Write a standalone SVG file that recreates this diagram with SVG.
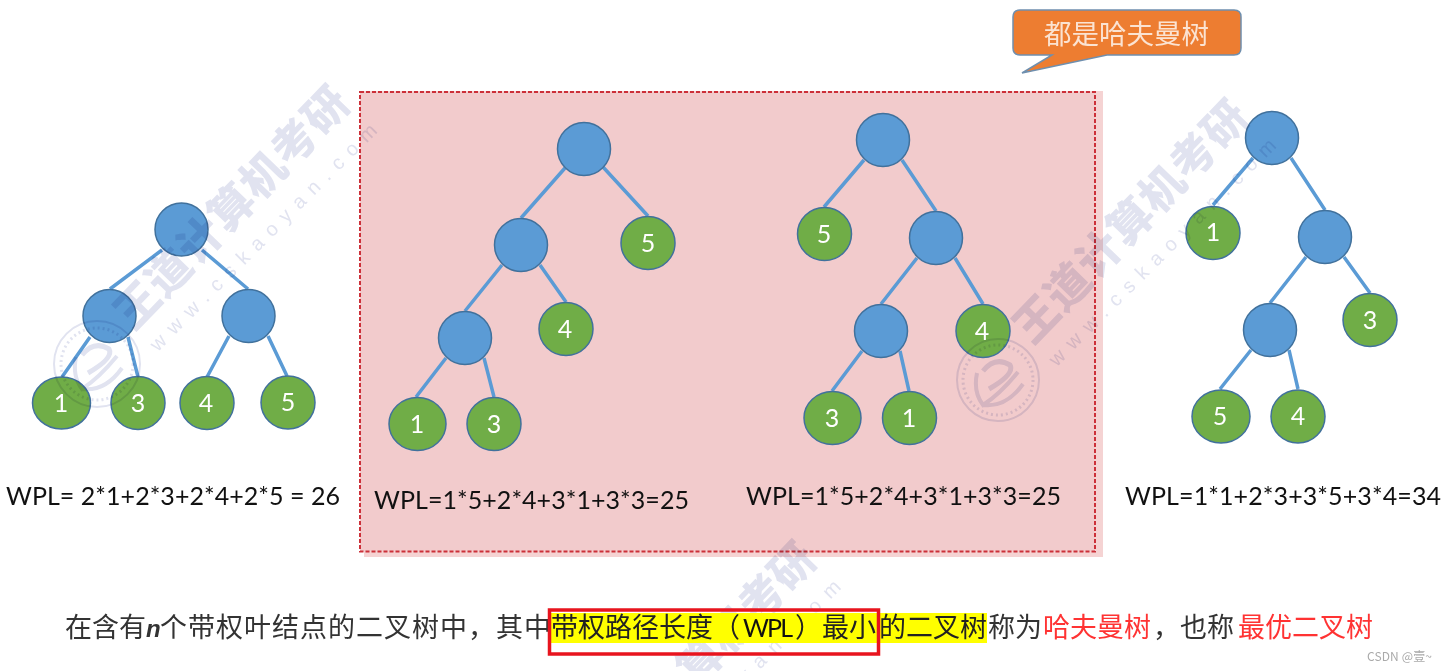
<svg xmlns="http://www.w3.org/2000/svg" width="1448" height="671" viewBox="0 0 1448 671">
<style>
.in{fill:#5b9bd5;stroke:#41719c;stroke-width:1.5}
.lf{fill:#70ad47;stroke:#41719c;stroke-width:1.5}
.n{font-family:"Lato","Liberation Sans",sans-serif;font-size:25px;fill:#fff;text-anchor:middle}
.w{font-family:"Lato","Liberation Sans",sans-serif;font-size:25px;fill:#111}
.c{stroke:#5b9bd5;stroke-width:3.5;fill:none}
.t{font-family:"Noto Sans CJK SC",sans-serif;font-size:27px;fill:#333}
.y{fill:#222}
.r{fill:#f33}
.bl{mix-blend-mode:multiply}
.wm{font-family:"Noto Sans CJK SC",sans-serif;font-size:44px;font-weight:900;fill:#e1e3f0;text-anchor:middle}
.wu{font-family:"Liberation Sans",sans-serif;font-size:20px;fill:#e1e3f0;text-anchor:middle}
.lg{fill:none;stroke:#e1e3f0}
</style>
<rect width="1448" height="671" fill="#fff"/>
<g id="panel"><rect x="364" y="91" width="739" height="466" fill="#f5d3d3"/><rect x="360" y="92" width="735" height="459.500" fill="#f2cbcc" stroke="#cc3039" stroke-width="2" stroke-dasharray="4 2"/></g>
<g id="connectors" class="c">
<path d="M162 250L110 289M202 250L248 289M90 337L62 377M128 337L138 377M229 336L207 377M268 336L287 376"/>
<path d="M565 168L521 218M603 167L648 216M502 265L465 311M540 265L566 302M446 358L416 397M484 358L494 397"/>
<path d="M864 160L824 207M902 160L936 211M917 258L881 304M955 258L983 304M862 351L832 391M900 351L909 391"/>
<path d="M1253 158L1213 205M1291 158L1325 210M1306 257L1270 303M1344 257L1370 293M1251 350L1220 389M1289 350L1298 389"/>
</g>
<g id="tree1">
<circle class="in" cx="181.500" cy="229.500" r="26.500"/><circle class="in" cx="109.500" cy="316" r="26.500"/><circle class="in" cx="248.500" cy="316" r="26.500"/>
<g><ellipse class="lf" cx="61.500" cy="403" rx="29" ry="26"/><text class="n" x="61" y="412">1</text></g>
<g><ellipse class="lf" cx="138" cy="403" rx="27" ry="26.500"/><text class="n" x="138" y="412">3</text></g>
<g><ellipse class="lf" cx="207" cy="403" rx="27" ry="26.500"/><text class="n" x="206" y="412">4</text></g>
<g><ellipse class="lf" cx="288" cy="402.500" rx="27" ry="26.500"/><text class="n" x="288" y="411">5</text></g>
</g>
<g id="tree2">
<circle class="in" cx="584" cy="149" r="26.500"/><circle class="in" cx="521" cy="245" r="26.500"/><circle class="in" cx="465" cy="338" r="26.500"/>
<g><ellipse class="lf" cx="648" cy="243" rx="27" ry="26.500"/><text class="n" x="648" y="252">5</text></g>
<g><ellipse class="lf" cx="566" cy="329" rx="27" ry="26.500"/><text class="n" x="565" y="338">4</text></g>
<g><ellipse class="lf" cx="417.500" cy="424" rx="28.500" ry="26.500"/><text class="n" x="417" y="433">1</text></g>
<g><ellipse class="lf" cx="494" cy="424" rx="27" ry="26.500"/><text class="n" x="494" y="433">3</text></g>
</g>
<g id="tree3">
<circle class="in" cx="883" cy="140" r="26.500"/><circle class="in" cx="936" cy="238" r="26.500"/><circle class="in" cx="881" cy="331" r="26.500"/>
<g><ellipse class="lf" cx="824.500" cy="234" rx="27" ry="26.500"/><text class="n" x="824" y="243">5</text></g>
<g><ellipse class="lf" cx="983" cy="331" rx="27" ry="26.500"/><text class="n" x="982" y="340">4</text></g>
<g><ellipse class="lf" cx="832.500" cy="418" rx="28.500" ry="26.500"/><text class="n" x="832" y="427">3</text></g>
<g><ellipse class="lf" cx="909.500" cy="418" rx="27" ry="26.500"/><text class="n" x="909" y="427">1</text></g>
</g>
<g id="tree4">
<circle class="in" cx="1272" cy="138" r="26.500"/><circle class="in" cx="1325" cy="237" r="26.500"/><circle class="in" cx="1270" cy="330" r="26.500"/>
<g><ellipse class="lf" cx="1213" cy="233" rx="27" ry="26.500"/><text class="n" x="1213" y="241">1</text></g>
<g><ellipse class="lf" cx="1370" cy="320" rx="27" ry="26.500"/><text class="n" x="1370" y="329">3</text></g>
<g><ellipse class="lf" cx="1221" cy="416.500" rx="29" ry="26.500"/><text class="n" x="1220" y="425">5</text></g>
<g><ellipse class="lf" cx="1298" cy="416.500" rx="27" ry="26.500"/><text class="n" x="1298" y="425">4</text></g>
</g>
<g id="watermarks" class="bl">
<g class="bl"><text class="wm" transform="translate(232 208) rotate(-46)" y="15" textLength="315">王道计算机考研</text></g>
<g class="bl"><text class="wu" transform="translate(263 237) rotate(-45)" y="7" textLength="312">www.cskaoyan.com</text></g>
<g class="lg bl" transform="translate(97 364)"><circle r="43" stroke-width="2"/><circle r="36" stroke-width="3" stroke-dasharray="2 3"/><path stroke-width="5" d="M-15-9Q-3-24 12-15Q17-6-9 9"/><path stroke-width="4" d="M-21-7Q-25 12-15 25Q2 14 20-8M-15 25Q8 28 25 4"/></g>
<g class="bl"><text class="wm" transform="translate(1131 222) rotate(-46)" y="15" textLength="315">王道计算机考研</text></g>
<g class="bl"><text class="wu" transform="translate(1162 252) rotate(-45)" y="7" textLength="312">www.cskaoyan.com</text></g>
<g class="lg bl" transform="translate(998 380)"><circle r="41" stroke-width="2"/><circle r="35" stroke-width="3" stroke-dasharray="2 3"/><path stroke-width="5" d="M-15-9Q-3-24 12-15Q17-6-9 9"/><path stroke-width="4" d="M-21-7Q-25 12-15 25Q2 14 20-8M-15 25Q8 28 25 4"/></g>
<g class="bl"><text class="wm" transform="translate(747 614) rotate(-46)" y="15" textLength="176">算机考研</text></g>
<g class="bl"><text class="wu" transform="translate(789 631) rotate(-45)" y="7" textLength="136">yan.com</text></g>
</g>
<g id="formulas">
<text class="w" x="6" y="505" textLength="334">WPL= 2*1+2*3+2*4+2*5 = 26</text>
<text class="w" x="374" y="509" textLength="315">WPL=1*5+2*4+3*1+3*3=25</text>
<text class="w" x="746" y="505" textLength="315">WPL=1*5+2*4+3*1+3*3=25</text>
<text class="w" x="1125" y="505" textLength="316">WPL=1*1+2*3+3*5+3*4=34</text>
</g>
<g id="callout">
<path d="M1020 10H1234Q1241 10 1241 17V48Q1241 55 1234 55H1107L1022 73L1052 55H1020Q1013 55 1013 48V17Q1013 10 1020 10Z" fill="#ed7d31" stroke="#6f8fae" stroke-width="1.500"/>
<text x="1126.500" y="44" font-family="'Noto Sans CJK SC',sans-serif" font-size="27.500" fill="#fbe3d2" text-anchor="middle">都是哈夫曼树</text>
</g>
<g id="caption">
<rect x="551" y="613" width="436" height="30" fill="#ff0"/>
<text class="t" y="637"><tspan x="65">在含有</tspan><tspan x="146" font-family="'Liberation Sans',sans-serif" font-style="italic" font-weight="700" font-size="24">n</tspan><tspan x="160" textLength="391">个带权叶结点的二叉树中，其中</tspan><tspan x="551" class="y">带权路径长度</tspan><tspan x="713" class="y">（</tspan><tspan x="743" fill="#111" font-family="Lato,sans-serif" font-size="25" textLength="50">WPL</tspan><tspan x="795" class="y">）</tspan><tspan x="822" class="y">最小</tspan><tspan x="879" class="y">的二叉树</tspan><tspan x="988">称为</tspan><tspan x="1043" class="r">哈夫曼树</tspan><tspan x="1153">，也称</tspan><tspan x="1238" class="r">最优二叉树</tspan></text>
<rect x="549.500" y="610" width="329" height="44" fill="none" stroke="#e8141e" stroke-width="3.500"/>
<text x="1367" y="661" font-family="'Noto Sans CJK SC',sans-serif" font-size="12" fill="#aaa" textLength="65">CSDN @壹~</text>
</g>
</svg>
